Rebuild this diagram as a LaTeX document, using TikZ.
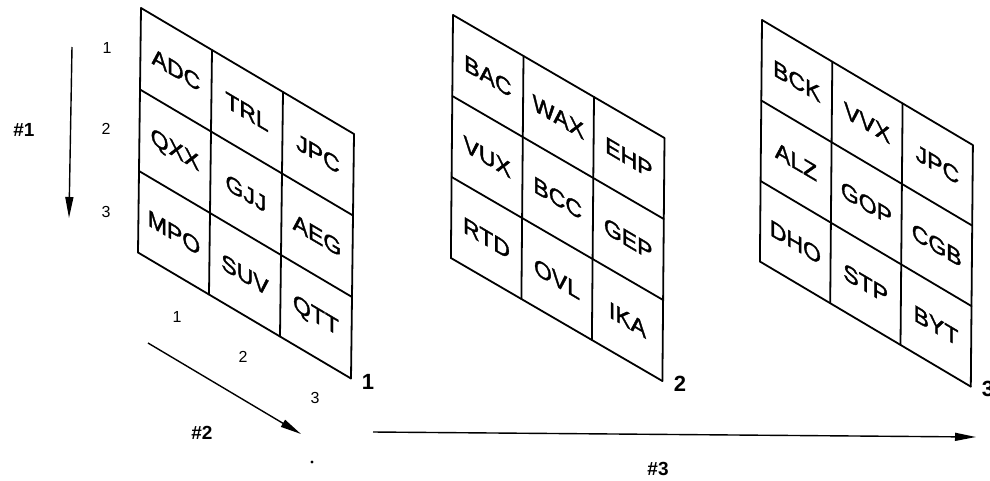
\documentclass[tikz,border=0pt]{standalone}
\usepackage{fontspec}
\setmainfont{Liberation Sans}
\newfontfamily\cellfont[FakeBold=1.6]{Liberation Sans}
\usetikzlibrary{arrows.meta}
\begin{document}
\begin{tikzpicture}[x=1pt,y=-1pt,
  gridline/.style={line width=1.8pt, line cap=round, line join=round},
  cell/.style={font=\cellfont\fontsize{23}{23}\selectfont, yslant=-0.59, inner sep=0pt},
  idx/.style={font=\fontsize{16}{16}\selectfont, inner sep=0pt},
  axislabel/.style={font=\bfseries\fontsize{19}{19}\selectfont, inner sep=0pt},
  planelabel/.style={font=\bfseries\fontsize{22}{22}\selectfont, inner sep=0pt},
  axis/.style={line width=1.4pt, -{Triangle[length=21pt,width=8pt]}}]
\useasboundingbox (0,0) rectangle (990,480);

% plane 1
\begin{scope}[shift={(141,8)}, x={(71pt,-42pt)}, y={(-1pt,-81.5pt)}]
  \foreach \i in {0,...,3} {
    \draw[gridline] (\i,0) -- (\i,3);
    \draw[gridline] (0,\i) -- (3,\i);
  }
  \foreach \t [count=\k from 0] in {ADC,QXX,MPO,TRL,GJJ,SUV,JPC,AEG,QTT} {
    \pgfmathtruncatemacro\cc{int(\k/3)}
    \pgfmathtruncatemacro\rr{mod(\k,3)}
    \node[cell] (pa\k) at (\cc+0.5,\rr+0.5) {\t};
  }
\end{scope}

% plane 2
\begin{scope}[shift={(453,15)}, x={(70.5pt,-41pt)}, y={(-0.7pt,-81pt)}]
  \foreach \i in {0,...,3} {
    \draw[gridline] (\i,0) -- (\i,3);
    \draw[gridline] (0,\i) -- (3,\i);
  }
  \foreach \t [count=\k from 0] in {BAC,VUX,RTD,WAX,BCC,OVL,EHP,GEP,IKA} {
    \pgfmathtruncatemacro\cc{int(\k/3)}
    \pgfmathtruncatemacro\rr{mod(\k,3)}
    \node[cell] (pb\k) at (\cc+0.5,\rr+0.5) {\t};
  }
\end{scope}

% plane 3
\begin{scope}[shift={(762,20)}, x={(70.3pt,-41.7pt)}, y={(-0.7pt,-80.5pt)}]
  \foreach \i in {0,...,3} {
    \draw[gridline] (\i,0) -- (\i,3);
    \draw[gridline] (0,\i) -- (3,\i);
  }
  \foreach \t [count=\k from 0] in {BCK,ALZ,DHO,VVX,GOP,STP,JPC,CGB,BYT} {
    \pgfmathtruncatemacro\cc{int(\k/3)}
    \pgfmathtruncatemacro\rr{mod(\k,3)}
    \node[cell] (pc\k) at (\cc+0.5,\rr+0.5) {\t};
  }
\end{scope}

% plane labels
\node[planelabel] (la) at (368,382) {1};
\node[planelabel] (lb) at (680,384) {2};
\node[planelabel] (lc) at (988,389) {3};

% row indices
\node[idx] (r1) at (107,48) {1};
\node[idx] (r2) at (106,129) {2};
\node[idx] (r3) at (106,212) {3};
% column indices
\node[idx] (c1) at (177,317) {1};
\node[idx] (c2) at (243,357) {2};
\node[idx] (c3) at (315,398) {3};

% axes
\coordinate (a1s) at (72,47);
\coordinate (a1e) at (69,218);
\draw[axis] (a1s) -- (a1e);
\node[axislabel] (h1) at (24,130) {\#1};

\coordinate (a2s) at (148,343);
\coordinate (a2e) at (301,434);
\draw[axis] (a2s) -- (a2e);
\node[axislabel] (h2) at (202,433) {\#2};
\fill (312,462) circle (1.6pt);

\coordinate (a3s) at (373,432);
\coordinate (a3e) at (976,437);
\draw[axis] (a3s) -- (a3e);
\node[axislabel] (h3) at (658,469) {\#3};
\end{tikzpicture}
\end{document}
